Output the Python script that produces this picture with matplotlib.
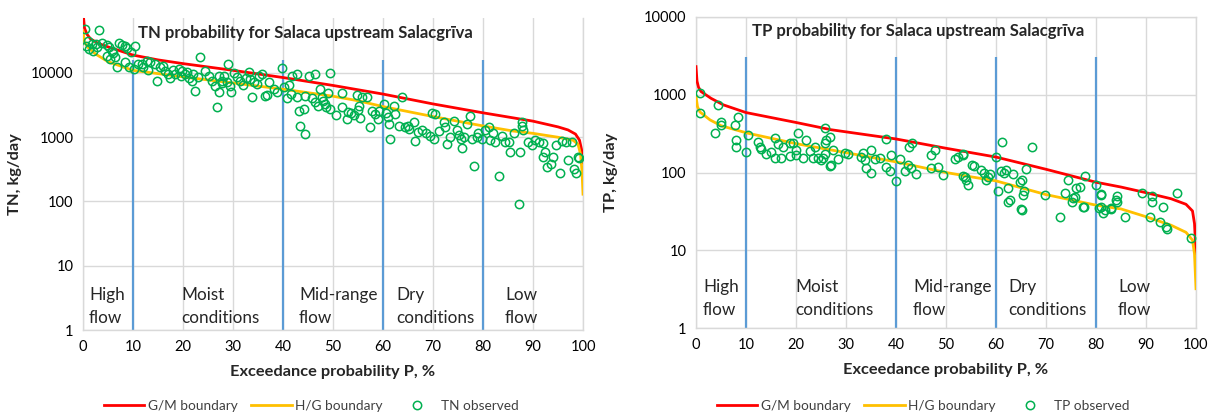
import matplotlib
matplotlib.use("Agg")
import matplotlib.pyplot as plt
import matplotlib.transforms as mtransforms
from matplotlib.ticker import FixedLocator, FixedFormatter, NullLocator

plt.rcParams['font.family'] = ['Lato', 'DejaVu Sans']

# ---------------- data ----------------
# TN boundary curves (exceedance probability %, kg/day)
tn_gm_p = [0, 0.3, 0.8, 1.5, 3, 5, 10, 15, 20, 30, 40, 50, 60, 70, 80, 90, 95, 97, 98.5, 99.3, 99.7, 100]
tn_gm_v = [90000, 50000, 40000, 34000, 29000, 25500, 19000, 16000, 14000, 11000, 8500, 6400, 4700, 3300,
           2400, 1780, 1450, 1300, 1120, 900, 650, 400]
tn_hg_p = [0, 0.3, 1, 2.4, 5, 10, 20, 30, 40, 50, 55, 60, 70, 80, 86, 90, 95, 98, 99, 99.5, 99.8, 100]
tn_hg_v = [45000, 30000, 25000, 20000, 15000, 11000, 8700, 7000, 5600, 4350, 3700, 3000, 2100, 1500,
           1250, 1150, 1000, 900, 780, 550, 300, 130]

# TN observed
tn_obs_p = [0.4, 3.2, 0.9, 1.7, 2.5, 3.7, 4.7, 5.1, 5.7, 7.1, 7.7, 8.3, 8.7, 10.3, 4.7, 5.4, 6.4, 6.7,
            8.4, 9.1, 10.1, 11.7, 12.7, 13.4, 14.4, 14.7, 15.4, 16.4, 17.4, 18.4, 19.1, 19.7, 20.4, 21.1,
            21.7, 22.4, 23.4, 24.4, 25.1, 25.7, 26.4, 27.1, 27.7, 26.7, 28.1,
            0.6, 1.2, 2.0, 2.8, 6.0, 9.5, 11.0, 12.0, 13.0, 16.0, 17.0, 18.0, 19.5, 20.8, 22.0, 23.0,
            28.9, 27.1, 27.7, 28.7, 29.4, 29.6, 30.2, 31.4, 33.1, 33.4, 34.1, 35.1, 35.7, 33.7, 36.4, 37.1,
            38.1, 39.7, 40.1, 40.7, 41.1, 41.7, 42.7, 42.7, 43.1, 44.1, 43.4, 44.4, 44.4, 45.1, 46.4, 46.4,
            47.4, 47.7, 48.0, 48.3, 48.9, 49.3, 49.3, 51.7, 51.7, 52.7, 53.5, 54.2, 55.0, 55.7,
            30.8, 32.0, 32.5, 34.8, 36.8, 38.8, 41.5, 45.8, 46.9, 48.6, 50.5, 53.0,
            54.7, 56.7, 55.1, 55.4, 57.4, 57.7, 58.4, 59.1, 60.1, 60.5, 60.9, 61.1, 61.4, 62.1, 62.4, 63.1,
            63.7, 64.4, 65.1, 66.1, 66.4, 67.7, 69.4, 69.7, 70.4, 70.1, 72.1, 72.4, 72.7, 74.1, 74.7, 75.2,
            75.5, 75.7, 76.2, 76.7, 77.4, 77.7, 78.1, 78.7, 79.7, 81.1, 81.4, 82.4, 83.2, 83.7, 84.4, 85.4,
            58.9, 64.9, 67.0, 68.5, 71.2, 73.4, 79.0, 80.4, 82.0,
            85.1, 86.2, 87.4, 87.8, 88.0, 88.9, 89.7, 90.4, 91.2, 91.9, 91.9, 92.3, 92.7, 93.5, 93.9, 94.6,
            95.4, 95.8, 96.6, 97.0, 97.7, 98.1, 98.5, 98.9, 99.2, 87.2, 87.8]
tn_obs_v = [49000, 46000, 31000, 28300, 28300, 28900, 27400, 25200, 22300, 28800, 27400, 26200, 24700,
            26200, 18600, 16600, 17600, 12300, 14700, 12300, 11500, 13700, 15400, 14700, 13700, 7600,
            12300, 10900, 8300, 9600, 11500, 10900, 9600, 8500, 7600, 5300, 17600, 10900, 9100, 7600,
            6300, 5000, 7100, 3000, 9100,
            26000, 24000, 22000, 25000, 20500, 21000, 14000, 12500, 11000, 13000, 9800, 11000, 9000,
            10500, 9500, 8800,
            13800, 9100, 7600, 7200, 6300, 5100, 9900, 7600, 10200, 8100, 7200, 9100, 9600, 4200, 4400,
            7200, 5600, 11800, 6000, 4100, 6600, 9100, 9600, 4200, 2600, 2750, 1500, 1140, 4400, 9100,
            9600, 3500, 5600, 4200, 3700, 3300, 4800, 10000, 2750, 4800, 3000, 1900, 2400, 2200, 2700,
            4200,
            8800, 6500, 8300, 6800, 4600, 5000, 4700, 4100, 3100, 3000, 2200, 2500,
            4500, 4300, 3100, 1960, 1420, 2600, 2300, 2600, 3300, 2400, 2100, 1600, 930, 3100, 2300,
            1500, 4200, 1420, 1330, 1700, 870, 1300, 1050, 2400, 2300, 930, 1700, 1420, 780, 1800,
            1300, 1100, 950, 690, 1000, 1600, 2150, 930, 355, 1000, 930, 1420, 900, 840, 250, 1050, 840,
            580,
            1900, 1500, 1200, 1150, 1250, 1000, 1150, 1300, 1150,
            830, 1180, 580, 1480, 1300, 830, 770, 900, 830, 800, 500, 580, 350, 380, 500, 770, 280, 870,
            830, 450, 830, 315, 280, 500, 470, 93, 1700]

# TP boundary curves
tp_gm_p = [0, 0.2, 0.5, 1, 3, 5.5, 10, 20, 27, 40, 50, 55, 60, 70, 80, 85, 90, 95, 98, 99.3, 99.7, 100]
tp_gm_v = [2300, 1500, 1250, 1100, 900, 740, 590, 440, 355, 270, 205, 180, 158, 110, 75, 65, 55, 46,
           39, 32, 22, 9]
tp_hg_p = [0, 0.3, 0.8, 2.8, 5, 10.2, 20, 30, 40, 50, 55, 60, 70, 80, 85, 90, 95, 98, 99.3, 99.7, 100]
tp_hg_v = [950, 700, 600, 475, 400, 322, 235, 180, 137, 100, 88, 78, 52, 38, 34, 27, 21, 17, 13.5,
           9, 3.2]

# TP observed
tp_obs_p = [0.8, 0.8, 4.5, 5.1, 5.1, 3.8, 7.8, 8.5, 8.1, 8.1, 10.1, 10.5, 12.5, 12.8, 13.0, 15.1, 15.8,
            15.8, 17.5, 17.1, 18.8, 19.5, 20.1, 20.1, 18.8, 20.5, 21.5, 22.1, 23.5, 23.8, 24.5, 25.1,
            25.8, 26.1, 25.8, 26.8,
            26.8, 25.8, 27.5, 25.5, 27.1, 28.5, 29.8, 33.5, 33.8, 34.1, 35.1, 35.1, 35.8, 36.8, 38.1,
            39.1, 38.8, 38.1, 40.0, 40.8, 41.8, 42.5, 43.1, 44.1, 42.7, 43.3, 47.1, 47.1, 47.8, 48.5,
            49.5, 51.8, 52.5, 53.5, 53.5, 54.1, 33.0, 30.5, 22.8, 16.5, 14.0,
            53.5, 53.8, 54.5, 55.3, 55.6, 57.1, 57.6, 58.1, 58.4, 58.8, 60.1, 60.5, 61.1, 61.6, 62.1,
            61.3, 62.5, 62.8, 63.5, 64.8, 65.2, 65.5, 65.7, 65.1, 66.1, 67.3, 69.8, 72.8, 73.8, 74.5,
            75.5, 75.8, 76.1, 76.8, 77.8, 77.5, 80.1, 81.1, 81.1, 81.8, 83.1, 84.1,
            62.4, 65.2, 75.3, 77.6, 80.7, 81.5, 83.0, 84.2, 85.8, 91.2, 90.8, 92.8, 93.5, 94.0, 94.2,
            99.0, 89.3, 91.2, 96.3, 84.2, 81.1]
tp_obs_v = [1050, 580, 740, 450, 410, 320, 410, 525, 263, 215, 185, 305, 250, 215, 200, 185, 275, 153,
            210, 153, 240, 240, 195, 170, 165, 320, 153, 263, 153, 210, 153, 145, 370, 263, 175, 120,
            290, 237, 195, 153, 125, 150, 180, 180, 145, 114, 195, 98, 150, 155, 119, 170, 105, 270,
            78, 150, 105, 125, 113, 96, 215, 238, 113, 170, 195, 119, 93, 150, 160, 175, 90, 80, 160,
            175, 190, 230, 175,
            168, 88, 70, 125, 120, 108, 100, 80, 88, 95, 160, 57, 105, 100, 108, 250, 63, 44, 95, 76,
            80, 52, 58, 34, 110, 215, 52, 27, 55, 80, 47, 48, 63, 66, 89, 36, 69, 52, 36, 33, 34, 44,
            42, 33, 42, 36, 35, 30, 35, 42, 27, 42, 27, 23, 36, 20, 18.5, 14.4, 55, 50, 55, 50, 53]

xticks = [0, 10, 20, 30, 40, 50, 60, 70, 80, 90, 100]
yticks = [1, 10, 100, 1000, 10000]
ytick_labels = ['1', '10', '100', '1000', '10000']
boundaries = [10, 40, 60, 80]
regions = ['High\nflow', 'Moist\nconditions', 'Mid-range\nflow', 'Dry\nconditions', 'Low\nflow']
region_x_tn = [1.2, 19.6, 43.2, 62.6, 84.4]
region_x_tp = [1.4, 19.8, 43.4, 62.4, 84.4]

# ---------------- style ----------------
RED = '#FF0000'
YEL = '#FFC000'
GRN = '#00B050'
BLUE = '#5B9BD5'
GRID = '#D9D9D9'

fig = plt.figure(figsize=(12.1, 4.12), dpi=100)
ax1 = fig.add_axes([83/1210, 82/412, 500/1210, 312/412])
ax2 = fig.add_axes([696/1210, 84/412, 500/1210, 311/412])


def style(ax, ytop, vtop, title, ylabel, obs_label, gm_p, gm_v, hg_p, hg_v, ob_p, ob_v,
          region_x, region_yfrac, title_y, ylab_x, leg_x, leg_y, show_top):
    ax.set_yscale('log')
    ax.set_xlim(0, 100)
    ax.set_ylim(1, ytop)
    ax.yaxis.set_major_locator(FixedLocator(yticks))
    ax.yaxis.set_major_formatter(FixedFormatter(ytick_labels))
    ax.yaxis.set_minor_locator(NullLocator())
    ax.set_xticks(xticks)
    ax.grid(True, color=GRID, linewidth=1.0)
    ax.set_axisbelow(True)
    for s in ax.spines.values():
        s.set_color(GRID)
        s.set_linewidth(1.0)
    if not show_top:
        ax.spines['top'].set_visible(False)
    ax.tick_params(length=0, labelsize=10.5, colors='#000000', pad=7)
    ax.vlines(boundaries, 1, vtop, colors=BLUE, linewidth=1.6, zorder=2)
    ax.plot(gm_p, gm_v, color=RED, linewidth=2.0, label='G/M boundary', zorder=3)
    ax.plot(hg_p, hg_v, color=YEL, linewidth=2.0, label='H/G boundary', zorder=3)
    ax.plot(ob_p, ob_v, linestyle='none', marker='o', markersize=6, markerfacecolor='none',
            markeredgecolor=GRN, markeredgewidth=1.1, label=obs_label, zorder=4)
    ax.text(0.445, title_y, title, transform=ax.transAxes, ha='center', va='center',
            fontsize=12, fontweight='bold', color='#262626')
    ax.set_ylabel(ylabel, fontsize=11.8, fontweight='bold', color='#262626')
    ax.yaxis.set_label_coords(ylab_x, 0.5)
    ax.set_xlabel('Exceedance probability P, %', fontsize=11.8, fontweight='bold', color='#262626',
                  labelpad=8)
    trans = mtransforms.blended_transform_factory(ax.transData, ax.transAxes)
    for rx, rt in zip(region_x, regions):
        ax.text(rx, region_yfrac, rt, transform=trans, ha='left', va='center', fontsize=12.3,
                color='#262626', linespacing=1.55)
    ax.legend(loc='center', bbox_to_anchor=(leg_x, leg_y), ncol=3, frameon=False, fontsize=9.8,
              handlelength=3.0, columnspacing=1.0, handletextpad=0.25, labelcolor='#404040')


style(ax1, 10**4.856, 16000, 'TN probability for Salaca upstream Salacgrīva', 'TN, kg/day',
      'TN observed', tn_gm_p, tn_gm_v, tn_hg_p, tn_hg_v, tn_obs_p, tn_obs_v,
      region_x_tn, 0.076, 0.952, -0.123, 0.456, -0.244, False)
style(ax2, 10000, 3100, 'TP probability for Salaca upstream Salacgrīva', 'TP, kg/day',
      'TP observed', tp_gm_p, tp_gm_v, tp_hg_p, tp_hg_v, tp_obs_p, tp_obs_v,
      region_x_tp, 0.095, 0.955, -0.155, 0.454, -0.251, True)

fig.savefig('out.png', dpi=100)
